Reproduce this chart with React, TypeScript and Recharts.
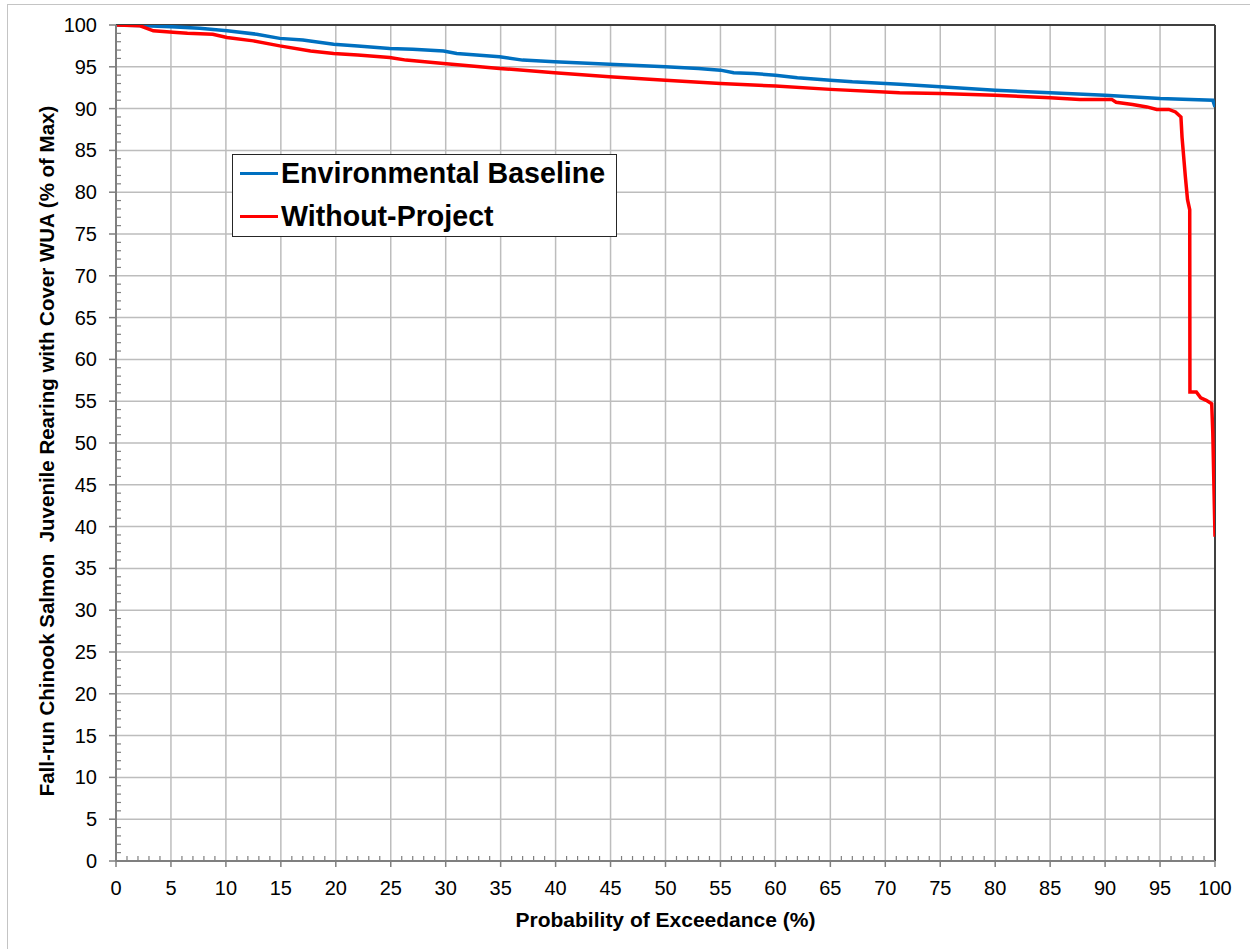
import React from 'react';
import {
  LineChart,
  Line,
  XAxis,
  YAxis,
  CartesianGrid,
  Legend,
  ReferenceLine,
} from 'recharts';

// exceedance (%) and habitat value (% of max)
const baselineP = [0, 2, 5, 7.6, 10.1, 12.8, 14.9, 17, 19.8, 22, 24.9, 27, 29.8, 31, 34.9, 37, 39.9, 44.9, 50, 53, 55, 56.2, 58, 60, 62, 65, 67, 71.3, 75, 80, 85, 90, 95, 99.8, 100];
const baselineV = [100, 99.95, 99.8, 99.6, 99.3, 98.9, 98.4, 98.2, 97.7, 97.5, 97.2, 97.1, 96.9, 96.6, 96.2, 95.8, 95.6, 95.3, 95.0, 94.8, 94.6, 94.3, 94.2, 94.0, 93.7, 93.4, 93.2, 92.9, 92.6, 92.2, 91.9, 91.6, 91.2, 91.0, 90.2];

const withoutP = [0, 2.2, 3.4, 5.5, 6.5, 8.8, 10.1, 12.5, 14.9, 17.7, 19.8, 22, 24.9, 26.4, 29.8, 34.9, 39.9, 44.9, 50, 55, 60, 65, 71.3, 75, 80, 85, 87.7, 90.6, 91, 92.5, 93.8, 94.7, 95.8, 96.4, 96.9, 97.0, 97.3, 97.5, 97.7, 97.72, 98.3, 98.7, 99.2, 99.7, 99.8, 100];
const withoutV = [100, 99.9, 99.3, 99.1, 99.0, 98.9, 98.5, 98.1, 97.5, 96.9, 96.6, 96.4, 96.1, 95.8, 95.4, 94.8, 94.3, 93.8, 93.4, 93.0, 92.7, 92.3, 91.9, 91.8, 91.6, 91.3, 91.1, 91.1, 90.75, 90.5, 90.2, 89.9, 89.9, 89.6, 89.0, 86.6, 81.9, 79.1, 77.9, 56.1, 56.1, 55.4, 55.1, 54.7, 51.2, 38.8];

const xMajor = [0, 5, 10, 15, 20, 25, 30, 35, 40, 45, 50, 55, 60, 65, 70, 75, 80, 85, 90, 95, 100];
const yMajor = [0, 5, 10, 15, 20, 25, 30, 35, 40, 45, 50, 55, 60, 65, 70, 75, 80, 85, 90, 95, 100];
const minorTicks = Array.from({ length: 101 }, (_, i) => i);

const baseline = baselineP.map((p, i) => ({ p, v: baselineV[i] }));
const without = withoutP.map((p, i) => ({ p, v: withoutV[i] }));

const FONT = "Arial, 'Liberation Sans', sans-serif";
const AXIS = '#7f7f7f';

const XTick = (props: any) => {
  const { x, y, payload } = props;
  const v = payload.value;
  if (v % 5 === 0) {
    return (
      <g>
        <line x1={x} y1={y} x2={x} y2={y + 6} stroke={AXIS} strokeWidth={1.5} />
        <text x={x} y={y + 34} textAnchor="middle" fontSize={20} fontFamily={FONT} fill="#000">
          {v}
        </text>
      </g>
    );
  }
  return <line x1={x} y1={y} x2={x} y2={y - 5} stroke={AXIS} strokeWidth={1.2} />;
};

const YTick = (props: any) => {
  const { x, y, payload } = props;
  const v = payload.value;
  if (v % 5 === 0) {
    return (
      <g>
        <line x1={x} y1={y} x2={x - 7} y2={y} stroke={AXIS} strokeWidth={1.5} />
        <text x={x - 19} y={y + 7} textAnchor="end" fontSize={20} fontFamily={FONT} fill="#000">
          {v}
        </text>
      </g>
    );
  }
  return <line x1={x} y1={y} x2={x + 5} y2={y} stroke={AXIS} strokeWidth={1.2} />;
};

const YTitle = (props: any) => {
  const { viewBox } = props;
  const cy = viewBox.y + viewBox.height / 2 + 8;
  const cx = 46;
  return (
    <text
      x={cx}
      y={cy}
      transform={`rotate(-90, ${cx}, ${cy})`}
      textAnchor="middle"
      dominantBaseline="central"
      fontSize={20.5}
      fontWeight="bold"
      fontFamily={FONT}
      fill="#000"
      style={{ whiteSpace: 'pre' }}
    >
      Fall-run Chinook Salmon  Juvenile Rearing with Cover WUA (% of Max)
    </text>
  );
};

const renderLegend = (props: any) => {
  const { payload } = props;
  return (
    <div
      style={{
        width: 385,
        height: 83,
        boxSizing: 'border-box',
        border: '1.5px solid #262626',
        background: '#fff',
        paddingLeft: 7,
        overflow: 'hidden',
      }}
    >
      <div style={{ marginTop: -3 }}>
        {payload.map((entry: any) => (
          <div key={entry.value} style={{ display: 'flex', alignItems: 'center', height: 43 }}>
            <div style={{ width: 38, height: 3.5, background: entry.color, marginRight: 3 }} />
            <span style={{ fontFamily: FONT, fontWeight: 'bold', fontSize: 28.6, color: '#000', whiteSpace: 'nowrap' }}>
              {entry.value}
            </span>
          </div>
        ))}
      </div>
    </div>
  );
};

export default function App() {
  return (
    <div style={{ position: 'absolute', left: 0, top: 0, width: 1250, height: 949, overflow: 'hidden', background: '#fff' }}>
      <div
        style={{
          position: 'absolute',
          left: 7,
          top: 4,
          width: 1300,
          height: 1000,
          border: '1.5px solid #c4c4c4',
        }}
      />
      <div style={{ position: 'absolute', left: 0, top: 0 }}>
        <LineChart width={1250} height={949} margin={{ top: 25, right: 35, left: 0, bottom: 0 }}>
          <CartesianGrid
            verticalValues={xMajor}
            horizontalValues={yMajor}
            stroke="#bdbdbd"
            strokeWidth={1.5}
          />
          <XAxis
            dataKey="p"
            type="number"
            domain={[0, 100]}
            ticks={minorTicks}
            interval={0}
            height={88}
            tickSize={0}
            tickMargin={0}
            tickLine={false}
            tick={<XTick />}
            axisLine={{ stroke: AXIS, strokeWidth: 2 }}
            allowDataOverflow
            label={{
              value: 'Probability of Exceedance (%)',
              position: 'insideBottom',
              offset: 22,
              style: { fontSize: 21, fontWeight: 'bold', fontFamily: FONT, fill: '#000' },
            }}
          />
          <YAxis
            type="number"
            domain={[0, 100]}
            ticks={minorTicks}
            interval={0}
            width={116}
            tickSize={0}
            tickMargin={0}
            tickLine={false}
            tick={<YTick />}
            axisLine={{ stroke: AXIS, strokeWidth: 2 }}
            allowDataOverflow
            label={<YTitle />}
          />
          <ReferenceLine y={100} stroke="#404040" strokeWidth={2} />
          <ReferenceLine x={100} stroke="#404040" strokeWidth={2} />
          <Legend
            layout="vertical"
            align="center"
            verticalAlign="middle"
            wrapperStyle={{ left: 232, top: 154, width: 385 }}
            content={renderLegend}
          />
          <Line
            data={baseline}
            dataKey="v"
            name="Environmental Baseline"
            type="linear"
            stroke="#0070C0"
            strokeWidth={3.5}
            dot={false}
            isAnimationActive={false}
          />
          <Line
            data={without}
            dataKey="v"
            name="Without-Project"
            type="linear"
            stroke="#FF0000"
            strokeWidth={3.5}
            dot={false}
            isAnimationActive={false}
          />
        </LineChart>
      </div>
    </div>
  );
}
